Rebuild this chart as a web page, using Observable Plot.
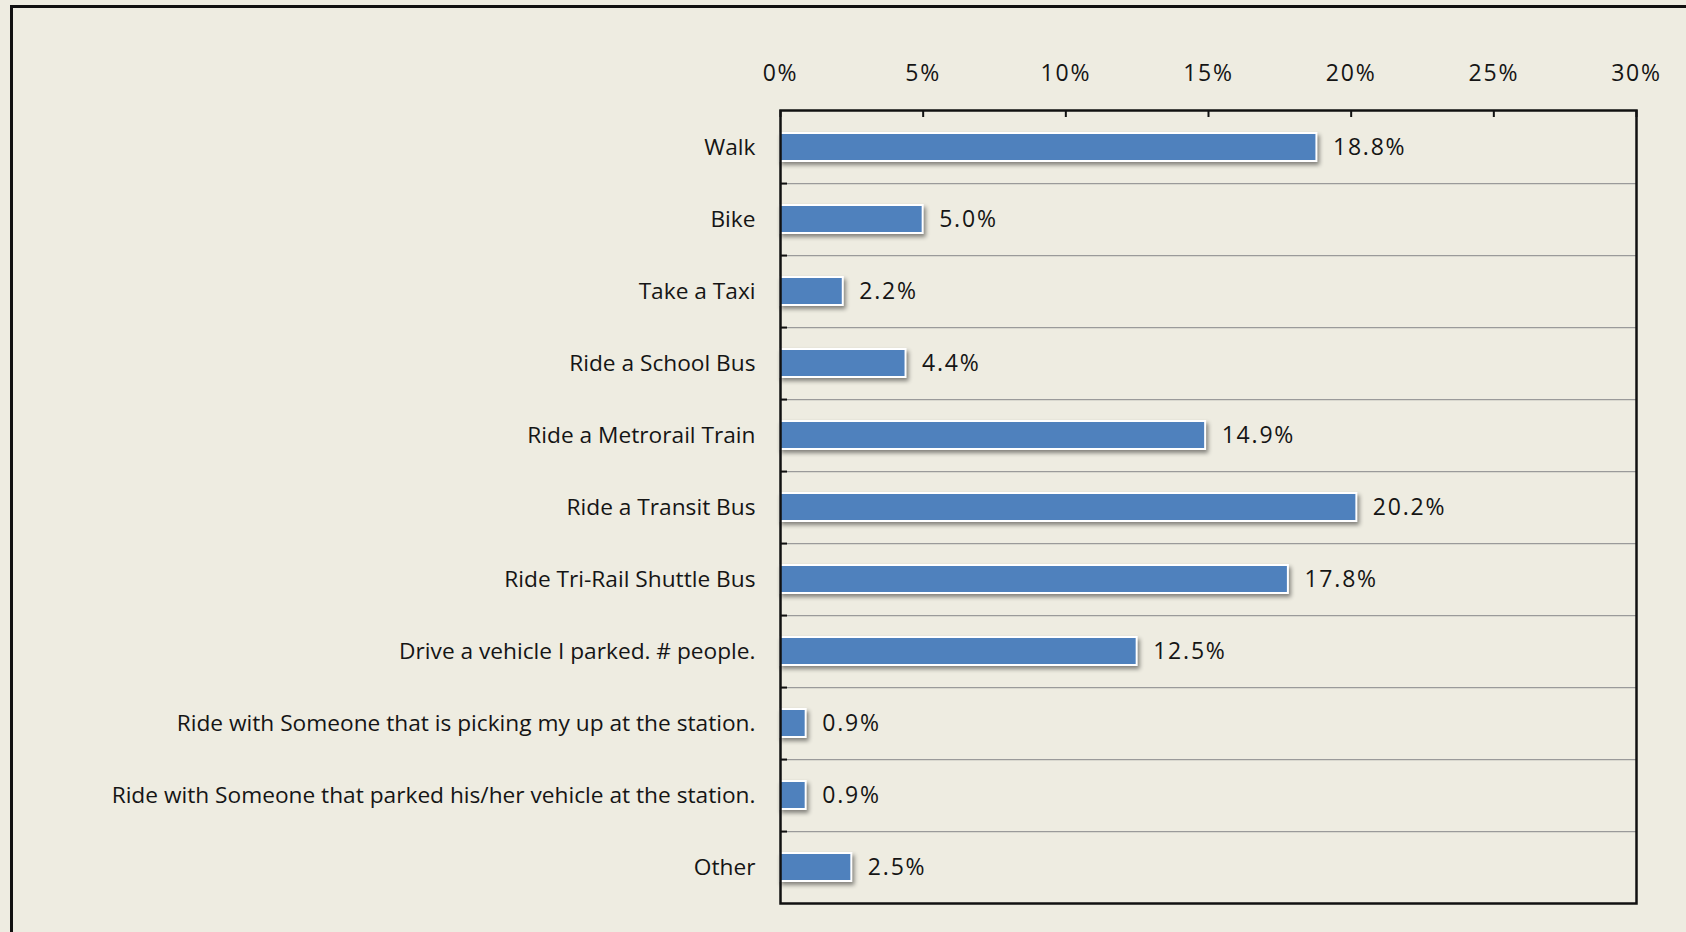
<!DOCTYPE html>
<html>
<head>
<meta charset="utf-8">
<script src="https://cdn.jsdelivr.net/npm/d3@7"></script>
<script src="https://cdn.jsdelivr.net/npm/@observablehq/plot@0.6"></script>
<style>
  html, body { margin: 0; padding: 0; background: #EEECE1; overflow: hidden; }
  #wrap { position: relative; width: 1686px; height: 932px; }
  #frame { position: absolute; left: 10px; top: 5px; width: 1700px; height: 960px; border: 3px solid #111; box-sizing: border-box; }
  #chart { position: absolute; left: 0; top: 0; }
  #chart g[aria-label="text"] text, #chart g[aria-label="x-axis tick label"] text { letter-spacing: 1.8px; }
</style>
</head>
<body>
<div id="wrap">
  <div id="frame"></div>
  <div id="chart"></div>
</div>
<script>
const categories = [
  "Walk",
  "Bike",
  "Take a Taxi",
  "Ride a School Bus",
  "Ride a Metrorail Train",
  "Ride a Transit Bus",
  "Ride Tri-Rail Shuttle Bus",
  "Drive a vehicle I parked. # people.",
  "Ride with Someone that is picking my up at the station.",
  "Ride with Someone that parked his/her vehicle at the station.",
  "Other"
];
const values = [18.8, 5.0, 2.2, 4.4, 14.9, 20.2, 17.8, 12.5, 0.9, 0.9, 2.5];
const xTicks = [0, 5, 10, 15, 20, 25, 30];

const data = categories.map((c, i) => ({category: c, value: values[i]}));

const W = 1686, H = 932;
const mt = 110, mb = 29, ml = 780, mr = 50;
const step = (H - mt - mb) / categories.length;
const font = "'Open Sans', Lato, sans-serif";

const plot = Plot.plot({
  width: W,
  height: H,
  marginTop: mt,
  marginBottom: mb,
  marginLeft: ml,
  marginRight: mr,
  style: {background: "transparent", fontFamily: font, fontSize: "22.7px", color: "#151515"},
  x: {domain: [0, 30], label: null},
  y: {domain: categories, padding: 0, label: null},
  marks: [
    Plot.tickY(categories.slice(0, -1), {y: d => d, dy: step / 2, stroke: "#9a9a9a", strokeWidth: 1.3}),
    Plot.tickY(categories.slice(0, -1), {y: d => d, dy: step / 2, stroke: "#111", strokeWidth: 2, insetRight: (W - ml - mr) - 7}),
    Plot.barX(data, {x: "value", y: "category", fill: "#4F81BD", stroke: "white", strokeWidth: 2, insetTop: 22, insetBottom: 22}),
    Plot.text(data, {x: "value", y: "category", text: d => d.value.toFixed(1) + "%", textAnchor: "start", dx: 16, fontSize: 23, fill: "#151515"}),
    Plot.tickX(xTicks, {x: d => d, stroke: "#111", strokeWidth: 2, insetBottom: (H - mt - mb) - 7}),
    Plot.axisX(xTicks, {anchor: "top", label: null, tickSize: 0, tickPadding: 30, tickFormat: d => d + "%", fontSize: 23, fill: "#151515"}),
    Plot.axisY({anchor: "left", label: null, tickSize: 0, tickPadding: 25, fontSize: 22.7, fill: "#151515"}),
    Plot.frame({stroke: "#111", strokeWidth: 2.5})
  ]
});

const barG = plot.querySelector('g[aria-label="bar"]');
if (barG) barG.style.filter = "drop-shadow(2px 3px 2px rgba(0,0,0,0.45))";

document.getElementById("chart").appendChild(plot);
</script>
</body>
</html>
